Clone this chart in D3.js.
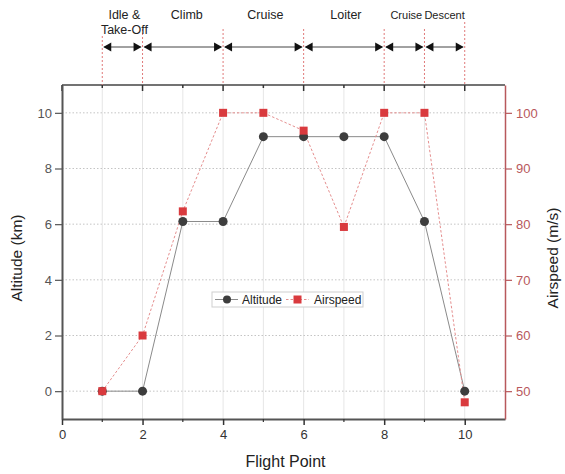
<!DOCTYPE html>
<html>
<head>
<meta charset="utf-8">
<script src="https://cdn.jsdelivr.net/npm/d3@7"></script>
<style>
  body { margin: 0; background: #fff; }
  svg { font-family: "Liberation Sans", Arial, sans-serif; }
</style>
</head>
<body>
<div id="chart"></div>
<script>
// data
var flightPoints = [1, 2, 3, 4, 5, 6, 7, 8, 9, 10];
var altitude = [0, 0, 6.096, 6.096, 9.144, 9.144, 9.144, 9.144, 6.096, 0];
var airspeed = [50, 60, 82.3, 100, 100, 96.8, 79.5, 100, 100, 48];

var xTicks = [0, 2, 4, 6, 8, 10];
var xMinor = [1, 3, 5, 7, 9];
var altTicks = [0, 2, 4, 6, 8, 10];
var speedTicks = [50, 60, 70, 80, 90, 100];

// mission phases along the top
var phaseBounds = [1, 2, 4, 6, 8, 9, 10];
var phaseNames = [["Idle &", "Take-Off"], ["Climb"], ["Cruise"], ["Loiter"], ["Cruise"], ["Descent"]];

var W = 565, H = 474;
var margin = {top: 85, right: 60, bottom: 55, left: 62};
var width = W - margin.left - margin.right,
    height = H - margin.top - margin.bottom;

var svg = d3.select("#chart").append("svg")
    .attr("width", W)
    .attr("height", H);

var g = svg.append("g")
    .attr("transform", "translate(" + margin.left + "," + margin.top + ")");

var x = d3.scaleLinear().domain([0, 11]).range([0, width]);
var y = d3.scaleLinear().domain([-1, 11]).range([height, 0]);
var y2 = d3.scaleLinear().domain([45, 105]).range([height, 0]);

var redAxis = "#b8585c";

// vertical grid
g.append("g").selectAll("line")
  .data(flightPoints)
  .enter().append("line")
    .attr("x1", function(d) { return x(d); })
    .attr("x2", function(d) { return x(d); })
    .attr("y1", 0).attr("y2", height)
    .attr("stroke", "#e6e6e6")
    .attr("stroke-width", 1);

// horizontal grid
g.append("g").selectAll("line")
  .data(altTicks)
  .enter().append("line")
    .attr("x1", 0).attr("x2", width)
    .attr("y1", function(d) { return y(d); })
    .attr("y2", function(d) { return y(d); })
    .attr("stroke", "#c4c4c4")
    .attr("stroke-dasharray", "1.5,2");

// phase markers above the plot
var phase = svg.append("g");
phase.selectAll("line.bound")
  .data(phaseBounds)
  .enter().append("line")
    .attr("class", "bound")
    .attr("x1", function(d) { return margin.left + x(d); })
    .attr("x2", function(d) { return margin.left + x(d); })
    .attr("y1", function(d, i) { return i == 0 ? 36 : (i == phaseBounds.length - 1 ? 22 : 29); })
    .attr("y2", margin.top)
    .attr("stroke", "#e07a7a")
    .attr("stroke-dasharray", "2,2");

var labelShift = [2, 4, 2, 2, 2, 0];
var arrowY = 47;
var segs = d3.pairs(phaseBounds);
segs.forEach(function(s, i) {
  var a = margin.left + x(s[0]), b = margin.left + x(s[1]);
  phase.append("line")
    .attr("x1", a + 2).attr("x2", b - 2)
    .attr("y1", arrowY).attr("y2", arrowY)
    .attr("stroke", "#444").attr("stroke-width", 1);
  phase.append("path")
    .attr("d", "M" + (a + 1) + "," + arrowY + "l8,-4.5l0,9z")
    .attr("fill", "#111");
  phase.append("path")
    .attr("d", "M" + (b - 1) + "," + arrowY + "l-8,-4.5l0,9z")
    .attr("fill", "#111");
  var names = phaseNames[i];
  var small = i >= 4;
  names.forEach(function(t, j) {
    phase.append("text")
      .attr("x", (a + b) / 2 + labelShift[i])
      .attr("y", 19 + j * 15)
      .attr("text-anchor", "middle")
      .style("font-size", small ? "11px" : "12.5px")
      .attr("fill", "#222")
      .text(t);
  });
});

// frame top with inward ticks
g.append("line").attr("x1", 0).attr("x2", width).attr("y1", 0).attr("y2", 0)
  .attr("stroke", "#444").attr("stroke-width", 1.5);
g.append("g").selectAll("line")
  .data(xTicks.concat(xMinor))
  .enter().append("line")
    .attr("x1", function(d) { return x(d); })
    .attr("x2", function(d) { return x(d); })
    .attr("y1", 0)
    .attr("y2", function(d) { return d % 2 == 0 ? 6 : 3; })
    .attr("stroke", "#333").attr("stroke-width", 1.5);

// bottom axis
var xAxis = g.append("g")
  .attr("transform", "translate(0," + height + ")")
  .call(d3.axisBottom(x).tickValues(xTicks).tickSize(6).tickSizeOuter(0).tickPadding(5));
xAxis.select(".domain").attr("stroke", "#555").attr("stroke-width", 2);
xAxis.selectAll(".tick line").attr("stroke", "#333").attr("stroke-width", 1.5);
xAxis.selectAll("text").style("font-size", "13px").attr("fill", "#333");
xAxis.selectAll("line.minor")
  .data(xMinor)
  .enter().append("line")
    .attr("class", "minor")
    .attr("x1", function(d) { return x(d); })
    .attr("x2", function(d) { return x(d); })
    .attr("y1", 0).attr("y2", 3)
    .attr("stroke", "#333").attr("stroke-width", 1.2);

// left axis
var yAxis = g.append("g")
  .call(d3.axisLeft(y).tickValues(altTicks).tickSize(7).tickSizeOuter(0).tickPadding(3));
yAxis.select(".domain").attr("stroke", "#555").attr("stroke-width", 2);
yAxis.selectAll(".tick line").attr("stroke", "#555").attr("stroke-width", 1.2);
yAxis.selectAll("text").style("font-size", "13px").attr("fill", "#555");

// right axis
var y2Axis = g.append("g")
  .attr("transform", "translate(" + width + ",0)")
  .call(d3.axisRight(y2).tickValues(speedTicks).tickSize(7).tickSizeOuter(0).tickPadding(4));
y2Axis.select(".domain").attr("stroke", redAxis).attr("stroke-width", 1.5);
y2Axis.selectAll(".tick line").attr("stroke", redAxis).attr("stroke-width", 1.2);
y2Axis.selectAll("text").style("font-size", "13px").attr("fill", redAxis);

// axis titles
svg.append("text")
  .attr("transform", "translate(22," + (margin.top + height / 2 + 6) + ") rotate(-90)")
  .attr("text-anchor", "middle")
  .style("font-size", "15.5px")
  .attr("fill", "#222")
  .text("Altitude (km)");
svg.append("text")
  .attr("transform", "translate(558," + (margin.top + height / 2 + 6) + ") rotate(-90)")
  .attr("text-anchor", "middle")
  .style("font-size", "15.5px")
  .attr("fill", "#222")
  .text("Airspeed (m/s)");
svg.append("text")
  .attr("x", margin.left + width / 2 + 2)
  .attr("y", 467)
  .attr("text-anchor", "middle")
  .style("font-size", "16px")
  .attr("fill", "#222")
  .text("Flight Point");

// series lines
var altLine = d3.line()
  .x(function(d, i) { return x(flightPoints[i]); })
  .y(function(d) { return y(d); });
var speedLine = d3.line()
  .x(function(d, i) { return x(flightPoints[i]); })
  .y(function(d) { return y2(d); });

g.append("path")
  .datum(altitude)
  .attr("d", altLine)
  .attr("fill", "none")
  .attr("stroke", "#8a8a8a")
  .attr("stroke-width", 1);

g.append("path")
  .datum(airspeed)
  .attr("d", speedLine)
  .attr("fill", "none")
  .attr("stroke", "#e58e8e")
  .attr("stroke-width", 1)
  .attr("stroke-dasharray", "2.5,2");

// markers
g.append("g").selectAll("circle")
  .data(altitude)
  .enter().append("circle")
    .attr("cx", function(d, i) { return x(flightPoints[i]); })
    .attr("cy", function(d) { return y(d); })
    .attr("r", 4.5)
    .attr("fill", "#3d3d3d");

g.append("g").selectAll("rect")
  .data(airspeed)
  .enter().append("rect")
    .attr("x", function(d, i) { return x(flightPoints[i]) - 4; })
    .attr("y", function(d) { return y2(d) - 4; })
    .attr("width", 8).attr("height", 8)
    .attr("fill", "#d93a3e");

// legend
var leg = svg.append("g").attr("transform", "translate(212,292)");
leg.append("rect")
  .attr("width", 151).attr("height", 15)
  .attr("fill", "#fff")
  .attr("stroke", "#cfcfcf");
leg.append("line").attr("x1", 3).attr("x2", 26).attr("y1", 7.5).attr("y2", 7.5)
  .attr("stroke", "#8a8a8a");
leg.append("circle").attr("cx", 15).attr("cy", 7.5).attr("r", 4).attr("fill", "#3d3d3d");
leg.append("text").attr("x", 30).attr("y", 12).style("font-size", "12px").attr("fill", "#222").text("Altitude");
leg.append("line").attr("x1", 74).attr("x2", 97).attr("y1", 7.5).attr("y2", 7.5)
  .attr("stroke", "#e58e8e").attr("stroke-dasharray", "2.5,2");
leg.append("rect").attr("x", 81.5).attr("y", 3.5).attr("width", 8).attr("height", 8).attr("fill", "#d93a3e");
leg.append("text").attr("x", 102).attr("y", 12).style("font-size", "12px").attr("fill", "#222").text("Airspeed");
</script>
</body>
</html>
